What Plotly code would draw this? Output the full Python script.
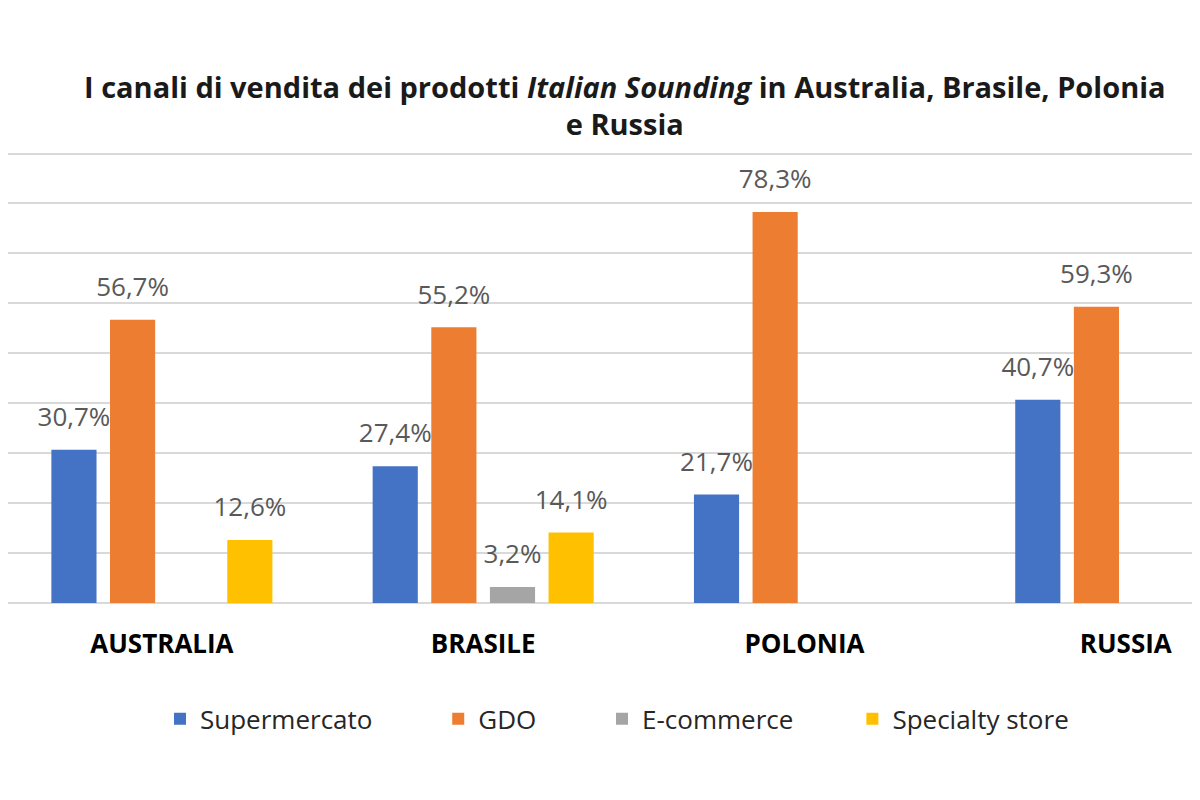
import plotly.graph_objects as go

categories = ["AUSTRALIA", "BRASILE", "POLONIA", "RUSSIA"]
supermercato = [30.7, 27.4, 21.7, 40.7]
gdo = [56.7, 55.2, 78.3, 59.3]
ecommerce = [None, 3.2, None, None]
specialty = [12.6, 14.1, None, None]

series = [
    ("Supermercato", supermercato, "#4472C4"),
    ("GDO", gdo, "#ED7D31"),
    ("E-commerce", ecommerce, "#A5A5A5"),
    ("Specialty store", specialty, "#FFC000"),
]
legend_pad = [9, 9, 8, 0]

FONT = "Open Sans"

fig = go.Figure()
for i, (name, vals, color) in enumerate(series):
    fig.add_trace(go.Bar(
        name=name + "\u00a0" * legend_pad[i],
        x=categories,
        y=vals,
        offsetgroup=str(i),
        marker=dict(color=color, line=dict(width=0)),
    ))
for i, (name, vals, color) in enumerate(series):
    fig.add_trace(go.Scatter(
        x=categories,
        y=vals,
        offsetgroup=str(i),
        mode="markers+text",
        marker=dict(size=26, opacity=0),
        text=[("" if v is None else f"{v:.1f}%".replace(".", ",")) for v in vals],
        textposition="top center",
        textfont=dict(family=FONT, size=26, color="#595959"),
        cliponaxis=False,
        showlegend=False,
        hoverinfo="skip",
    ))

fig.update_layout(
    width=1200, height=800,
    paper_bgcolor="white", plot_bgcolor="white",
    margin=dict(l=0, r=0, t=144, b=205),
    barmode="group",
    bargap=0.27,
    bargroupgap=0.23,
    scattermode="group",
    scattergap=0.27,
    title=dict(
        text="<b>I canali di vendita dei prodotti <i>Italian Sounding</i> in Australia, Brasile, Polonia<br>e Russia</b>",
        x=0.514, xanchor="center", y=0.888, yanchor="middle",
        font=dict(family=FONT, size=29, color="#1a1a1a"),
    ),
    xaxis=dict(
        range=[-0.479, 3.256],
        showgrid=False, showline=False, zeroline=False,
        tickfont=dict(family=FONT, size=26, color="#000000", weight="bold"),
        ticks="", ticklabelstandoff=23,
    ),
    yaxis=dict(
        range=[0, 90.3], dtick=10,
        showgrid=True, gridcolor="#D9D9D9", gridwidth=2,
        zeroline=True, zerolinecolor="#D9D9D9", zerolinewidth=2,
        showticklabels=False, showline=False,
    ),
    legend=dict(
        orientation="h", x=0.5075, xanchor="center", y=-0.257, yanchor="middle",
        font=dict(family=FONT, size=26, color="#262626"),
        itemwidth=30,
    ),
    showlegend=True,
)

fig.write_html("out.html")
